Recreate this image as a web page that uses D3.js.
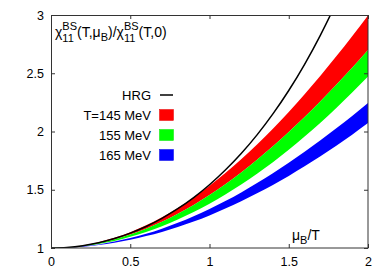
<!DOCTYPE html>
<html>
<head>
<meta charset="utf-8">
<script src="https://cdn.jsdelivr.net/npm/d3@7/dist/d3.min.js"></script>
<style>
    body { margin: 0; background: #fff; }
    svg { display: block; font-family: "Liberation Sans", Arial, Helvetica, sans-serif; }
</style>
</head>
<body>
<svg id="chart"></svg>
<script>
    // mu_B/T grid and curves
    var muValues = [0, 0.1, 0.2, 0.3, 0.4, 0.5, 0.6, 0.7, 0.8, 0.9, 1.0,
        1.1, 1.2, 1.3, 1.4, 1.5, 1.6, 1.7, 1.8, 1.9, 2.0];
    var hrgValues = [1.000, 1.005, 1.020, 1.045, 1.081, 1.128, 1.185, 1.255, 1.337, 1.433, 1.543,
        1.669, 1.811, 1.971, 2.151, 2.352, 2.577, 2.828, 3.107, 3.418, 3.762];
    var t145Upper = [1.000, 1.005, 1.022, 1.049, 1.087, 1.136, 1.195, 1.264, 1.344, 1.434, 1.534,
        1.643, 1.761, 1.888, 2.024, 2.168, 2.320, 2.479, 2.645, 2.818, 2.996];
    var t145Lower = [1.000, 1.005, 1.019, 1.042, 1.074, 1.116, 1.166, 1.225, 1.294, 1.370, 1.455,
        1.548, 1.649, 1.757, 1.873, 1.996, 2.125, 2.260, 2.402, 2.548, 2.700];
    var t155Upper = t145Lower;
    var t155Lower = [1.000, 1.004, 1.015, 1.035, 1.061, 1.096, 1.138, 1.187, 1.244, 1.308, 1.380,
        1.459, 1.545, 1.638, 1.737, 1.844, 1.957, 2.076, 2.202, 2.334, 2.472];
    var t165Upper = [1.000, 1.003, 1.014, 1.031, 1.055, 1.085, 1.122, 1.166, 1.216, 1.273, 1.335,
        1.403, 1.477, 1.557, 1.642, 1.731, 1.826, 1.924, 2.027, 2.134, 2.244];
    var t165Lower = [1.000, 1.003, 1.011, 1.026, 1.045, 1.071, 1.102, 1.138, 1.180, 1.227, 1.280,
        1.338, 1.401, 1.469, 1.541, 1.619, 1.701, 1.787, 1.878, 1.973, 2.072];

    var xTicks = [0, 0.5, 1, 1.5, 2];
    var yTicks = [1, 1.5, 2, 2.5, 3];
    var legendLabels = ['HRG', 'T=145 MeV', '155 MeV', '165 MeV'];
    var bandColors = ['#ff0000', '#00ff00', '#0000ff'];

    var W = 392, H = 275;
    var margin = {left: 51, top: 15, right: 24, bottom: 27};
    var width = W - margin.left - margin.right;
    var height = H - margin.top - margin.bottom;

    var svg = d3.select('#chart').attr('width', W).attr('height', H);
    var g = svg.append('g').attr('transform', 'translate(' + margin.left + ',' + margin.top + ')');

    var x = d3.scaleLinear().domain([0, 2]).range([0, width]);
    var y = d3.scaleLinear().domain([1, 3]).range([height, 0]);

    g.append('clipPath').attr('id', 'clip')
        .append('rect').attr('width', width).attr('height', height);

    var plot = g.append('g').attr('clip-path', 'url(#clip)');

    var bands = [
        {up: t145Upper, lo: t145Lower},
        {up: t155Upper, lo: t155Lower},
        {up: t165Upper, lo: t165Lower}
    ];

    var area = d3.area()
        .x(function(i) { return x(muValues[i]); })
        .curve(d3.curveMonotoneX);

    var idx = d3.range(muValues.length);

    bands.forEach(function(b, k) {
        plot.append('path')
            .datum(idx)
            .attr('fill', bandColors[k])
            .attr('d', area
                .y0(function(i) { return y(b.lo[i]); })
                .y1(function(i) { return y(b.up[i]); }));
    });

    var line = d3.line()
        .x(function(i) { return x(muValues[i]); })
        .y(function(i) { return y(hrgValues[i]); })
        .curve(d3.curveMonotoneX);

    plot.append('path')
        .datum(idx)
        .attr('fill', 'none')
        .attr('stroke', '#000')
        .attr('stroke-width', 1.5)
        .attr('d', line);

    // axes, ticks pointing inward
    var fmt = function(d) { return d3.format('')(d); };
    var axisStyle = function(sel) {
        sel.select('.domain').remove();
        sel.selectAll('line').attr('stroke', '#333');
        sel.selectAll('text').attr('fill', '#000').style('font-size', '12.5px')
            .style('font-family', '"Liberation Sans", Arial, sans-serif');
    };

    g.append('g').attr('transform', 'translate(0,' + height + ')')
        .call(d3.axisBottom(x).tickValues(xTicks).tickFormat(fmt).tickSizeInner(-4).tickSizeOuter(0).tickPadding(9))
        .call(axisStyle);
    g.append('g')
        .call(d3.axisTop(x).tickValues(xTicks).tickFormat('').tickSizeInner(-4).tickSizeOuter(0))
        .call(axisStyle);
    g.append('g')
        .call(d3.axisLeft(y).tickValues(yTicks).tickFormat(fmt).tickSizeInner(-4).tickSizeOuter(0).tickPadding(7))
        .call(axisStyle);
    g.append('g').attr('transform', 'translate(' + width + ',0)')
        .call(d3.axisRight(y).tickValues(yTicks).tickFormat('').tickSizeInner(-4).tickSizeOuter(0))
        .call(axisStyle);

    g.append('rect')
        .attr('x', 0.5).attr('y', 0.5)
        .attr('width', width - 0.5).attr('height', height - 0.5)
        .attr('fill', 'none')
        .attr('stroke', '#333')
        .attr('stroke-width', 1);

    // text with stacked sub/superscripts
    function richText(parent, x0, y0, parts) {
        var cx = x0, hold = 0;
        parts.forEach(function(p) {
            var t = parent.append('text')
                .attr('x', cx).attr('y', y0 + p[2])
                .style('font-size', p[1] + 'px')
                .text(p[0]);
            var w = t.node().getComputedTextLength();
            if (p[3] === 'hold') {
                hold = w;
            } else {
                cx += Math.max(w, hold);
                hold = 0;
            }
        });
    }

    richText(svg, 55, 37, [
        ['χ', 14, 0], ['11', 11, 5, 'hold'], ['BS', 11, -7],
        ['(T,μ', 14, 0], ['B', 11, 4], [')/χ', 14, 0],
        ['11', 11, 5, 'hold'], ['BS', 11, -7], ['(T,0)', 14, 0]
    ]);

    richText(svg, 292, 240, [['μ', 14, 0], ['B', 11, 4], ['/T', 14, 0]]);

    // legend
    var legend = svg.append('g');
    legendLabels.forEach(function(label, i) {
        var cy = 95 + i * 20;
        legend.append('text')
            .attr('x', 151).attr('y', cy + 4.5)
            .attr('text-anchor', 'end')
            .style('font-size', '13px')
            .text(label);
        if (i === 0) {
            legend.append('line')
                .attr('x1', 160).attr('x2', 173)
                .attr('y1', cy).attr('y2', cy)
                .attr('stroke', '#000').attr('stroke-width', 1.5);
        } else {
            legend.append('rect')
                .attr('x', 159.5).attr('y', cy - 5.5)
                .attr('width', 14).attr('height', 11)
                .attr('fill', bandColors[i - 1])
                .attr('stroke', d3.color(bandColors[i - 1]).darker(0.3))
                .attr('stroke-width', 0.5);
        }
    });
</script>
</body>
</html>
